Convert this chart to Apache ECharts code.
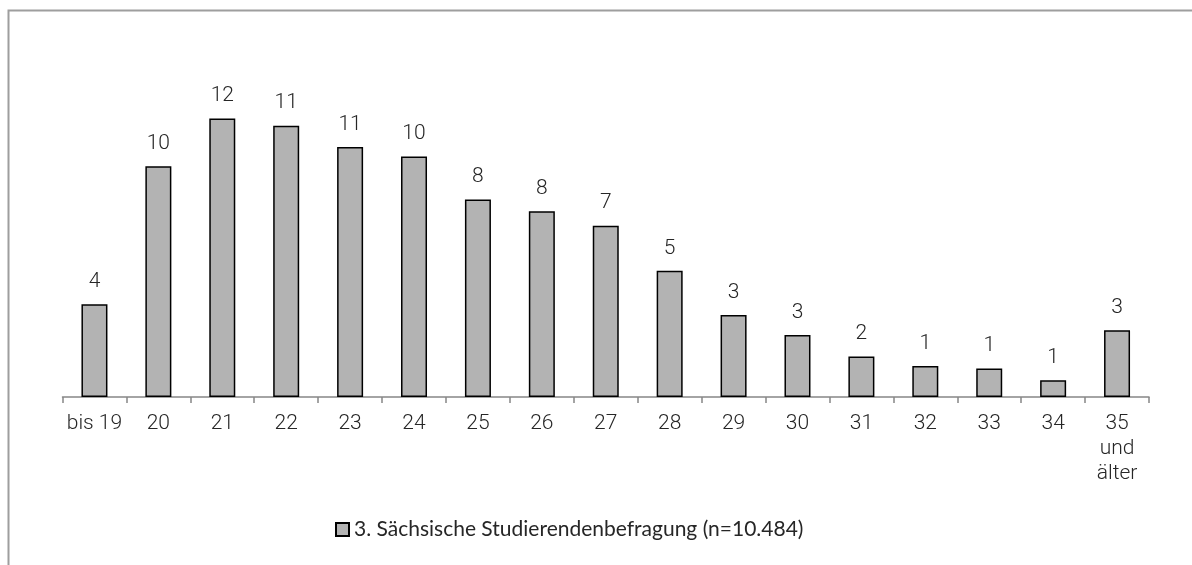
<!DOCTYPE html>
<html>
<head>
<meta charset="utf-8">
<script src="https://cdn.jsdelivr.net/npm/echarts@6/dist/echarts.min.js"></script>
<style>html,body{margin:0;padding:0;background:#fff}#c{width:1192px;height:565px}</style>
</head>
<body>
<div id="c"></div>
<script>
const categories = ['bis 19','20','21','22','23','24','25','26','27','28','29','30','31','32','33','34','35\nund\nälter'];
const values = [3.9, 9.7, 11.7, 11.4, 10.5, 10.1, 8.3, 7.8, 7.2, 5.3, 3.45, 2.6, 1.7, 1.3, 1.2, 0.7, 2.8];
const seriesName = '3. Sächsische Studierendenbefragung (n=10.484)';

const chart = echarts.init(document.getElementById('c'), null, {renderer: 'canvas'});
chart.setOption({
  animation: false,
  backgroundColor: '#ffffff',
  graphic: [{
    type: 'polyline',
    shape: {points: [[8.5, 565], [8.5, 10.5], [1192, 10.5]]},
    style: {stroke: '#9e9e9e', lineWidth: 2, fill: null},
    silent: true
  }],
  grid: {left: 62.5, right: 43, top: 63.8, bottom: 168, containLabel: false},
  legend: {
    left: 330, top: 514,
    itemWidth: 13, itemHeight: 13, itemGap: 10,
    icon: 'rect',
    textStyle: {fontFamily: 'Lato', fontSize: 21, color: '#262626'},
    data: [seriesName]
  },
  xAxis: {
    type: 'category',
    data: categories,
    axisLine: {lineStyle: {color: '#868686', width: 1.5}},
    axisTick: {show: true, length: 6, lineStyle: {color: '#868686', width: 1.5}},
    axisLabel: {fontFamily: 'Roboto', fontWeight: 300, fontSize: 21, color: '#262626', lineHeight: 25, margin: 14, interval: 0}
  },
  yAxis: {type: 'value', min: 0, max: 14, show: false, splitLine: {show: false}},
  series: [{
    name: seriesName,
    type: 'bar',
    data: values,
    barWidth: 26,
    itemStyle: {color: '#b3b3b3', borderColor: '#000000', borderWidth: 1.5},
    label: {
      show: true, position: 'top', distance: 12,
      fontFamily: 'Roboto', fontWeight: 300, fontSize: 21, color: '#262626',
      formatter: p => String(Math.round(p.value))
    }
  }]
});
</script>
</body>
</html>
